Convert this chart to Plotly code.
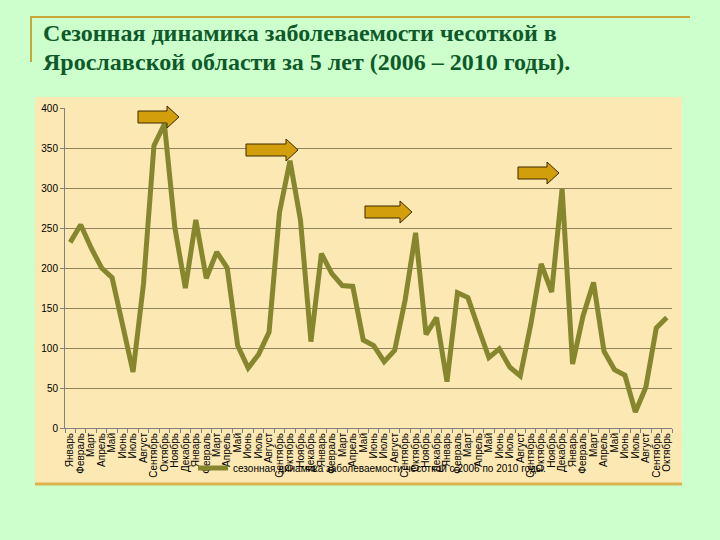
import plotly.graph_objects as go

months = ["Январь", "Февраль", "Март", "Апрель", "Май", "Июнь", "Июль",
          "Август", "Сентябрь", "Октябрь", "Ноябрь", "Декабрь"]
years = [2006, 2007, 2008, 2009, 2010]

v2006 = [232, 254, 225, 200, 188, 130, 70, 180, 353, 380, 250, 175]
v2007 = [260, 187, 220, 200, 103, 75, 92, 120, 270, 334, 260, 108]
v2008 = [218, 193, 178, 177, 110, 103, 83, 97, 160, 244, 117, 138]
v2009 = [58, 169, 163, 125, 88, 99, 76, 65, 129, 205, 170, 299]
v2010 = [80, 140, 182, 96, 73, 66, 20, 51, 125, 138]

values = v2006 + v2007 + v2008 + v2009 + v2010
n = len(values)
cat_keys = [f"{i}" for i in range(n)]
tick_text = [(months * 5)[i] for i in range(n)]

legend_name = "сезонная динамика заболеваемости чесоткой с 2006 по 2010 годы."
title_lines = ["Сезонная динамика заболеваемости чесоткой в",
               "Ярославской области за 5 лет (2006 – 2010 годы)."]

W, H = 720, 540
PL, PR, PT, PB = 65, 672, 108, 428  # plot area in pixels


def px(x):
    return (x - PL) / (PR - PL)


def py(y):
    return (PB - y) / (PB - PT)


def arrow_path(left, tip, cy, sh=6, hh=11, hl=12):
    pts = [(left, cy - sh), (tip - hl, cy - sh), (tip - hl, cy - hh), (tip, cy),
           (tip - hl, cy + hh), (tip - hl, cy + sh), (left, cy + sh)]
    return "M " + " L ".join(f"{px(a):.5f},{py(b):.5f}" for a, b in pts) + " Z"


fig = go.Figure()
fig.add_trace(go.Scatter(
    x=cat_keys, y=values, mode="lines", name=legend_name,
    line=dict(color="#86862F", width=5),
    showlegend=True,
))

shapes = []
shapes.append(dict(type="rect", xref="paper", yref="paper",
                   x0=px(35), x1=px(682), y0=py(485), y1=py(97),
                   fillcolor="#FCE8B3", line=dict(width=0), layer="below"))
shapes.append(dict(type="line", xref="paper", yref="paper",
                   x0=px(35), x1=px(682), y0=py(484), y1=py(484),
                   line=dict(color="#D9B44E", width=3), layer="below"))
shapes.append(dict(type="line", xref="paper", yref="paper",
                   x0=px(30), x1=px(690), y0=py(17), y1=py(17),
                   line=dict(color="#C9A63A", width=2)))
shapes.append(dict(type="line", xref="paper", yref="paper",
                   x0=px(31), x1=px(31), y0=py(17), y1=py(62),
                   line=dict(color="#C9A63A", width=2)))
for left, tip, cy in [(138, 179, 117), (246, 298, 150), (365, 412, 212), (518, 559, 173)]:
    shapes.append(dict(type="path", xref="paper", yref="paper",
                       path=arrow_path(left, tip, cy),
                       fillcolor="#D39E0C", line=dict(color="#3A2A00", width=1)))

title_font = dict(family="Liberation Serif", size=24, color="#0E5A2A")
annotations = [
    dict(xref="paper", yref="paper", x=px(41), y=py(18), xanchor="left", yanchor="top",
         text="<b>" + title_lines[0] + "</b>", showarrow=False, font=title_font),
    dict(xref="paper", yref="paper", x=px(41), y=py(47), xanchor="left", yanchor="top",
         text="<b>" + title_lines[1] + "</b>", showarrow=False, font=title_font),
]

fig.update_layout(
    width=W, height=H,
    margin=dict(l=PL, r=W - PR, t=PT, b=H - PB),
    paper_bgcolor="#CCFFCC",
    plot_bgcolor="rgba(0,0,0,0)",
    shapes=shapes,
    showlegend=True,
    legend=dict(orientation="h", x=px(372), xanchor="center", y=py(468), yanchor="middle",
                bgcolor="rgba(0,0,0,0)", font=dict(family="Liberation Sans", size=10, color="#000000"),
                itemwidth=30),
    annotations=annotations,
)

fig.update_xaxes(
    type="category", tickmode="array", tickvals=cat_keys, ticktext=tick_text,
    tickangle=-90, tickfont=dict(family="Liberation Sans", size=10, color="#000000"),
    showgrid=False, showline=True, linecolor="#808080", linewidth=1,
    ticks="outside", ticklen=4, tickcolor="#808080", tickson="boundaries",
    range=[-0.5, n - 0.5], zeroline=False,
)
fig.update_yaxes(
    range=[0, 400], dtick=50, tickfont=dict(family="Liberation Sans", size=10, color="#000000"),
    showgrid=True, gridcolor="#8E8260", gridwidth=1,
    showline=True, linecolor="#808080", linewidth=1,
    ticks="outside", ticklen=4, tickcolor="#808080", zeroline=False,
)

fig.write_html("out.html", config={"displayModeBar": False},
               post_script="document.body.style.margin='0';document.body.style.background='#CCFFCC';")
